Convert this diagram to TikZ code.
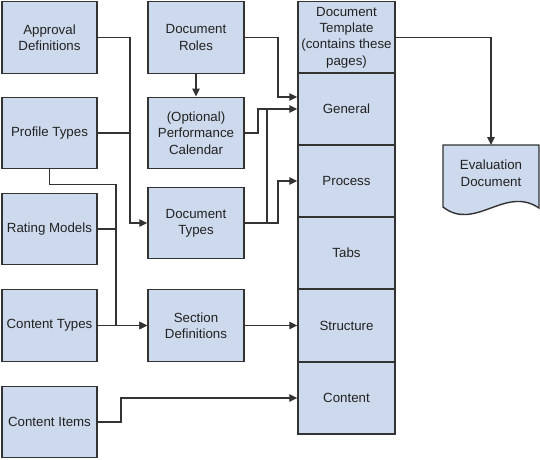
\documentclass[tikz,border=0pt]{standalone}
\usepackage{fontspec}
\setmainfont{Liberation Sans}
\usetikzlibrary{arrows.meta}
\definecolor{boxfill}{HTML}{CDD9EC}
\definecolor{edge}{HTML}{333333}
\definecolor{txt}{HTML}{222222}
\begin{document}
\begin{tikzpicture}[x=1pt,y=-1pt,
  box/.style={draw=edge,fill=boxfill,line width=1.4pt,inner sep=0pt,
    minimum width=95pt,minimum height=71.5pt,align=center,text=txt,
    font=\fontsize{13.3}{16.3}\selectfont},
  seg/.style={box,minimum width=97pt,minimum height=72pt},
  conn/.style={draw=edge,line width=1.3pt},
  arr/.style={conn,-{Triangle[length=8pt,width=7.5pt]}}]
\useasboundingbox (0,0) rectangle (540,459);
% left column
\node[box] (appr) at (49.5,37.5) {Approval\\Definitions};
\node[box] (prof) at (49.5,133) {Profile Types};
\node[box] (rate) at (49.5,229) {Rating Models};
\node[box] (ctyp) at (49.5,325.5) {Content Types};
\node[box] (citm) at (49.5,422) {Content Items};
% middle column
\node[box,minimum width=96pt] (roles) at (196,37.5) {Document\\Roles};
\node[box,minimum width=96pt] (perf) at (196,133) {(Optional)\\Performance\\Calendar};
\node[box,minimum width=96pt] (dtyp) at (196,223) {Document\\Types};
\node[box,minimum width=96pt] (sect) at (196,325.5) {Section\\Definitions};
% right column
\node[seg] (tmpl) at (346.5,37.5) {Document\\Template\\(contains these\\pages)};
\node[seg] (gen) at (346.5,109) {General};
\node[seg] (proc) at (346.5,181) {Process};
\node[seg] (tabs) at (346.5,253) {Tabs};
\node[seg] (struc) at (346.5,325.5) {Structure};
\node[seg] (cont) at (346.5,398) {Content};
% evaluation document
\node[inner sep=0pt,minimum width=96pt,minimum height=56pt,anchor=north] (evald) at (491,145) {};
\fill[boxfill] (443,145) -- (539,145) -- (539,208)
  .. controls (505,185) and (475,232) .. (443,207) -- cycle;
\draw[edge,line width=1.4pt] (443,145) -- (539,145) -- (539,208)
  .. controls (505,185) and (475,232) .. (443,207) -- cycle;
\node[align=center,text=txt,font=\fontsize{13.3}{16.3}\selectfont] (evalt) at (evald.center) {Evaluation\\Document};
% connectors
\draw[arr] (appr.east) -- (130,37.5) |- (dtyp.west);
\draw[conn] (prof.east) -- (130,133);
\draw[arr] (prof.south) |- (116,184.5) |- (sect.west);
\draw[conn] (rate.east) -- (116,229);
\draw[arr] (ctyp.east) -- (sect.west);
\draw[arr] (roles.east) -- (278,37.5) |- ([yshift=12pt]gen.west);
\draw[arr] (roles.south) -- (perf.north);
\draw[arr] (perf.east) -- (258,133) |- (gen.west);
\draw[conn] (dtyp.east) -- (267,223) -- (267,109);
\draw[arr] (dtyp.east) -- (278,223) |- (proc.west);
\draw[arr] (sect.east) -- (struc.west);
\draw[arr] (citm.east) -- (121,422) |- (cont.west);
\draw[arr] (tmpl.east) -| (evald.north);
\end{tikzpicture}
\end{document}
